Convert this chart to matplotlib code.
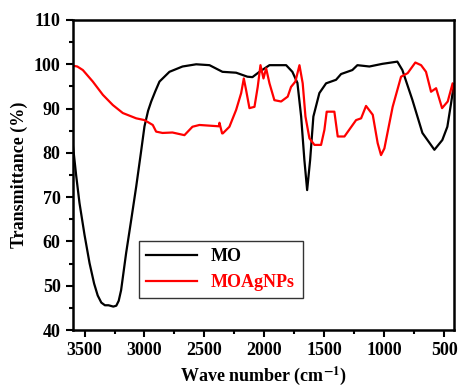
import matplotlib.pyplot as plt
import numpy as np

plt.rcParams['font.family'] = ['Liberation Serif', 'DejaVu Serif']
plt.rcParams['font.weight'] = 'bold'
plt.rcParams['mathtext.fontset'] = 'stix'

# MO spectrum (wavenumber cm-1, transmittance %)
mo_wn = [3600, 3570, 3542, 3500, 3458, 3420, 3390, 3360, 3330, 3300, 3260, 3235,
         3215, 3195, 3175, 3153, 3110, 3069, 3030, 3000, 2970, 2944, 2910,
         2875, 2792, 2683, 2569, 2458, 2350, 2236, 2142, 2100, 2042, 1958, 1819,
         1767, 1725, 1694, 1667, 1644, 1619, 1592, 1542, 1486, 1403, 1361, 1267,
         1225, 1125, 1017, 892, 850, 767, 683, 583, 517, 475, 444, 420]
mo_t = [82.5, 75.0, 68.7, 61.5, 55.1, 50.5, 47.8, 46.2, 45.6, 45.6, 45.3, 45.5,
        46.6, 49.0, 53.0, 57.4, 65.0, 72.4, 80.0, 86.0, 89.5, 91.6, 93.9,
        96.1, 98.3, 99.5, 100.0, 99.8, 98.3, 98.1, 97.2, 97.1, 98.3, 99.8, 99.8,
        98.3, 95.8, 88.2, 78.4, 71.6, 78.4, 88.2, 93.5, 95.7, 96.5, 97.8, 98.7,
        99.8, 99.5, 100.1, 100.6, 98.7, 92.0, 84.5, 80.7, 82.9, 85.9, 91.2, 95.5]

# MOAgNPs spectrum
ag_wn = [3600, 3560, 3514, 3431, 3347, 3264, 3181, 3069, 3000, 2931, 2903, 2850,
         2767, 2667, 2600, 2542, 2433, 2380, 2375, 2353, 2347, 2292, 2236, 2194,
         2172, 2153, 2125, 2083, 2056, 2033, 2008, 1986, 1958, 1917, 1861, 1806,
         1778, 1742, 1708, 1681, 1658, 1625, 1583, 1528, 1500, 1481, 1472, 1417,
         1389, 1333, 1236, 1194, 1153, 1097, 1056, 1028, 1000, 931, 861, 806, 742,
         694, 653, 611, 569, 519, 472, 431, 420]
ag_t = [99.7, 99.5, 98.7, 96.1, 93.1, 90.8, 89.0, 87.8, 87.4, 86.3, 84.8, 84.5,
        84.6, 84.0, 85.9, 86.3, 86.1, 86.0, 86.8, 84.4, 84.4, 85.9, 89.7, 93.5,
        96.8, 94.2, 90.1, 90.4, 94.9, 99.8, 96.8, 99.1, 95.7, 91.9, 91.6, 92.7,
        94.9, 96.1, 99.8, 95.7, 88.2, 83.3, 81.8, 81.8, 85.2, 89.3, 89.3, 89.3,
        83.7, 83.7, 87.4, 87.8, 90.6, 88.6, 82.2, 79.5, 81.0, 90.4, 97.2, 98.0,
        100.4, 99.8, 98.3, 93.8, 94.6, 90.1, 91.6, 95.7, 93.5]

fig = plt.figure(figsize=(4.59, 3.92), dpi=100)
ax = fig.add_axes([0.158, 0.158, 0.831, 0.791])

ax.plot(mo_wn, mo_t, color='black', lw=1.6, label='MO')
ax.plot(ag_wn, ag_t, color='red', lw=1.6, label='MOAgNPs')

ax.set_xlim(3600, 420)
ax.set_ylim(40, 110)
ax.set_xticks([3500, 3000, 2500, 2000, 1500, 1000, 500])
ax.set_xticks(np.arange(3250, 400, -500), minor=True)
ax.set_yticks(np.arange(40, 111, 10))
ax.set_yticks(np.arange(45, 110, 10), minor=True)

for s in ax.spines.values():
    s.set_linewidth(1.8)
ax.tick_params(which='both', direction='out', width=1.5, top=False, right=False)
ax.tick_params(which='major', length=5, labelsize=13)
ax.tick_params(which='minor', length=3)

ax.set_xlabel(r'Wave number (cm$^{\mathbf{-1}}$)', fontsize=13, fontweight='bold')
ax.set_ylabel('Transmittance (%)', fontsize=13, fontweight='bold')

leg = ax.legend(loc='lower left', bbox_to_anchor=(0.174, 0.103, 0.43, 0.2),
                mode='expand', fancybox=False, edgecolor='black',
                prop={'weight': 'bold', 'size': 13}, handlelength=2.8,
                borderaxespad=0)
leg.get_frame().set_linewidth(1.0)
leg.get_texts()[1].set_color('red')

fig.savefig('out.png', dpi=100)
